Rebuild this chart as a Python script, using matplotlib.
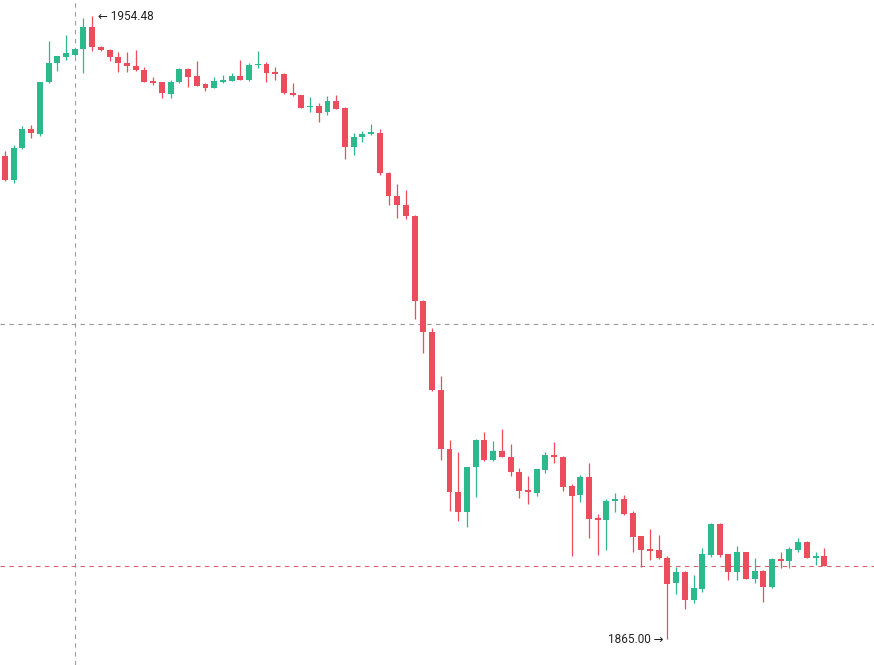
import matplotlib
matplotlib.use("Agg")
import matplotlib.pyplot as plt
import numpy as np

opens = [1934.42, 1930.94, 1935.50, 1938.26, 1937.54, 1944.96, 1947.69, 1948.64, 1948.92, 1949.74,
         1952.90, 1950.07, 1949.64, 1948.55, 1947.78, 1947.35, 1946.73, 1945.19, 1944.96, 1943.28,
         1944.96, 1946.87, 1945.91, 1944.72, 1944.19, 1945.05, 1945.19, 1945.87, 1945.29, 1947.40,
         1947.63, 1946.48, 1946.20, 1943.47, 1943.14, 1941.37, 1941.56, 1940.74, 1942.23, 1941.27,
         1935.72, 1937.07, 1937.54, 1937.73, 1932.00, 1928.68, 1927.39, 1925.81, 1913.61, 1909.16,
         1900.79, 1892.36, 1886.19, 1883.32, 1889.73, 1893.61, 1890.74, 1892.03, 1891.21, 1889.06,
         1886.43, 1886.04, 1889.30, 1891.50, 1891.21, 1887.05, 1885.71, 1888.34, 1882.41, 1882.13,
         1884.90, 1885.14, 1883.17, 1879.83, 1877.99, 1877.82, 1876.67, 1873.04, 1874.70, 1870.64,
         1872.22, 1877.14, 1881.55, 1877.24, 1874.70, 1877.53, 1873.70, 1874.80, 1872.46, 1876.53,
         1876.28, 1877.82, 1878.97, 1876.71, 1876.96]
highs = [1935.14, 1935.96, 1938.73, 1938.83, 1945.05, 1950.89, 1948.80, 1951.80, 1949.90, 1954.20,
         1954.48, 1950.20, 1949.74, 1949.35, 1949.27, 1949.64, 1947.23, 1945.77, 1945.00, 1945.29,
         1947.01, 1946.95, 1948.02, 1944.80, 1945.68, 1946.01, 1946.34, 1948.16, 1947.69, 1949.41,
         1947.83, 1947.12, 1946.25, 1944.82, 1943.20, 1942.81, 1942.03, 1943.04, 1943.14, 1941.35,
         1937.64, 1938.01, 1939.02, 1938.21, 1932.10, 1930.32, 1929.50, 1925.90, 1913.70, 1909.65,
         1902.84, 1893.61, 1891.84, 1889.80, 1893.70, 1894.80, 1893.47, 1895.15, 1893.04, 1889.63,
         1888.44, 1889.50, 1891.93, 1893.32, 1891.30, 1887.29, 1888.59, 1890.35, 1882.99, 1885.10,
         1886.04, 1885.71, 1883.46, 1879.90, 1880.80, 1879.93, 1876.96, 1875.33, 1874.80, 1874.23,
         1878.06, 1881.65, 1881.65, 1877.30, 1878.39, 1877.60, 1876.63, 1875.00, 1876.60, 1877.58,
         1878.29, 1879.59, 1879.05, 1877.49, 1878.06]
lows = [1930.79, 1930.51, 1935.40, 1936.92, 1937.30, 1944.86, 1946.58, 1948.16, 1948.70, 1946.25,
        1949.50, 1949.50, 1947.98, 1946.48, 1946.48, 1946.63, 1945.00, 1944.57, 1942.75, 1942.66,
        1944.90, 1944.33, 1944.40, 1943.76, 1944.10, 1944.82, 1945.15, 1945.25, 1945.20, 1946.97,
        1945.05, 1945.29, 1943.30, 1943.00, 1941.25, 1940.66, 1939.31, 1940.22, 1941.10, 1933.99,
        1934.48, 1936.35, 1937.40, 1931.70, 1927.35, 1925.44, 1925.29, 1911.05, 1906.06, 1900.70,
        1890.74, 1883.37, 1882.03, 1881.16, 1885.38, 1890.65, 1890.65, 1891.15, 1888.48, 1885.33,
        1884.42, 1885.57, 1888.92, 1890.35, 1886.33, 1876.96, 1884.75, 1879.50, 1877.10, 1877.82,
        1883.32, 1882.90, 1877.58, 1875.31, 1876.38, 1876.50, 1865.00, 1871.46, 1869.31, 1870.17,
        1871.83, 1876.77, 1876.86, 1873.51, 1873.51, 1873.65, 1873.04, 1870.40, 1872.40, 1875.19,
        1875.19, 1877.49, 1876.60, 1875.67, 1875.50]
closes = [1930.94, 1935.53, 1938.26, 1937.64, 1945.01, 1947.78, 1948.78, 1949.17, 1949.74, 1952.90,
          1950.07, 1949.64, 1948.55, 1947.78, 1947.35, 1946.73, 1945.05, 1944.90, 1943.38, 1944.96,
          1946.87, 1945.77, 1944.43, 1944.19, 1945.15, 1945.29, 1945.87, 1945.29, 1947.49, 1947.63,
          1946.34, 1946.11, 1943.38, 1943.07, 1941.32, 1941.56, 1940.60, 1942.23, 1941.17, 1935.72,
          1937.07, 1937.54, 1937.73, 1931.98, 1928.68, 1927.39, 1925.81, 1913.61, 1909.16, 1900.79,
          1892.36, 1886.19, 1883.32, 1889.73, 1893.61, 1890.74, 1892.03, 1891.21, 1889.06, 1886.33,
          1886.10, 1889.45, 1891.50, 1891.13, 1886.91, 1885.57, 1888.34, 1882.27, 1882.13, 1884.90,
          1885.14, 1882.99, 1879.73, 1877.82, 1877.70, 1876.60, 1872.94, 1874.70, 1870.64, 1872.32,
          1877.24, 1881.55, 1877.10, 1874.70, 1877.53, 1873.70, 1874.80, 1872.55, 1876.53, 1876.24,
          1877.96, 1878.97, 1876.71, 1876.96, 1875.56]

max_label = "1954.48"
min_label = "1865.00"
crosshair_index = 8
crosshair_price = 1910.26

UP = "#2cba8c"
DOWN = "#eb4d5c"

fig = plt.figure(figsize=(8.74, 6.65), dpi=100)
ax = fig.add_axes([0, 0, 1, 1])
ax.set_xlim(-0.574, 99.70)
ax.set_ylim(1861.31, 1956.78)
ax.axis("off")

x = np.arange(len(opens))
o = np.array(opens); c = np.array(closes); h = np.array(highs); l = np.array(lows)
colors = [UP if cc >= oo else DOWN for oo, cc in zip(o, c)]

ax.vlines(x, l, h, colors=colors, linewidth=0.9, zorder=2)
bottoms = np.minimum(o, c)
heights = np.maximum(np.abs(c - o), 0.25)
ax.bar(x, heights, bottom=bottoms, width=0.68, color=colors, linewidth=0, zorder=3)

# crosshair
ax.axvline(crosshair_index, color="#9a9a9a", linestyle=(0, (4, 4)), linewidth=0.8, zorder=1)
ax.axhline(crosshair_price, color="#9a9a9a", linestyle=(0, (4, 4)), linewidth=0.8, zorder=1)
# last price line
ax.axhline(closes[-1], color="#d9606e", linestyle=(0, (4, 4)), linewidth=0.8, zorder=1)

imax = int(np.argmax(h))
imin = int(np.argmin(l))
fam = ["Roboto", "DejaVu Sans"]
ax.annotate("← " + max_label, xy=(imax, h[imax]), xytext=(4, 0), textcoords="offset points",
            ha="left", va="center", fontsize=8.5, color="#222222", family=fam)
ax.annotate(min_label + " →", xy=(imin, l[imin]), xytext=(-3, 0), textcoords="offset points",
            ha="right", va="center", fontsize=8.5, color="#222222", family=fam)

fig.savefig("out.png", dpi=100, facecolor="white")
